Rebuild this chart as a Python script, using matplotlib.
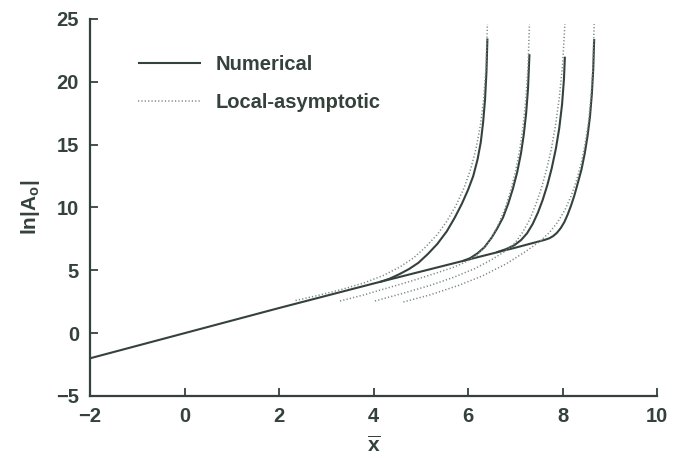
import matplotlib
matplotlib.use("Agg")
import matplotlib.pyplot as plt

plt.rcParams['font.family'] = ['Liberation Sans', 'DejaVu Sans']
plt.rcParams['font.weight'] = 'bold'
plt.rcParams['mathtext.fontset'] = 'custom'
plt.rcParams['mathtext.rm'] = 'Liberation Sans:bold'
plt.rcParams['mathtext.it'] = 'Liberation Sans:bold'
plt.rcParams['mathtext.bf'] = 'Liberation Sans:bold'

# ---- data ----
# shared numerical base line (leads into the 4th branch)
main_x = [-2.0, 0.0, 2.0, 4.0, 5.0, 6.0, 7.0, 7.5]
main_y = [-2.0, 0.0, 2.0, 3.95, 4.9, 5.85, 6.8, 7.3]

# numerical branches (leave the base line and blow up)
num1_x = [4.14, 4.35, 4.55, 4.75, 4.95, 5.15, 5.35, 5.55, 5.72, 5.87, 6.0, 6.11,
          6.2, 6.27, 6.32, 6.36, 6.39, 6.41]
num1_y = [4.08, 4.35, 4.7, 5.1, 5.6, 6.3, 7.1, 8.1, 9.2, 10.3, 11.4, 12.5,
          13.8, 15.2, 16.8, 18.6, 20.8, 23.45]
num2_x = [5.9, 6.05, 6.2, 6.35, 6.5, 6.62, 6.74, 6.85, 6.95, 7.04, 7.12, 7.18,
          7.23, 7.27, 7.30]
num2_y = [5.75, 5.98, 6.35, 6.85, 7.6, 8.35, 9.2, 10.3, 11.5, 12.8, 14.3, 15.8,
          17.5, 19.5, 22.2]
num3_x = [6.6, 6.8, 6.98, 7.12, 7.25, 7.37, 7.48, 7.58, 7.68, 7.77, 7.86, 7.93,
          7.99, 8.03, 8.05]
num3_y = [6.43, 6.68, 7.0, 7.4, 7.95, 8.7, 9.6, 10.6, 11.8, 13.1, 14.7, 16.3,
          18.2, 20.2, 22.0]
num4_x = [7.5, 7.62, 7.72, 7.8, 7.88, 7.96, 8.04, 8.11, 8.18, 8.25, 8.32, 8.4,
          8.47, 8.53, 8.58, 8.62, 8.65, 8.67]
num4_y = [7.3, 7.42, 7.55, 7.72, 7.98, 8.35, 8.85, 9.45, 10.15, 10.95, 11.9, 13.0,
          14.3, 15.7, 17.2, 19.0, 21.0, 23.4]

# local-asymptotic curves
asy1_x = [2.35, 2.8, 3.3, 3.8, 4.2, 4.55, 4.85, 5.1, 5.35, 5.55, 5.75, 5.92,
          6.06, 6.17, 6.26, 6.33, 6.38, 6.41]
asy1_y = [2.6, 2.98, 3.45, 4.0, 4.58, 5.25, 6.0, 6.85, 7.85, 8.9, 10.2, 11.6,
          13.1, 14.7, 16.5, 18.6, 21.2, 24.6]
asy2_x = [3.29, 3.8, 4.3, 4.8, 5.3, 5.7, 6.0, 6.2, 6.38, 6.52, 6.65, 6.78, 6.9,
          7.0, 7.09, 7.16, 7.22, 7.27, 7.30]
asy2_y = [2.56, 3.05, 3.6, 4.15, 4.75, 5.25, 5.75, 6.25, 6.95, 7.75, 8.7, 9.9, 11.3,
          12.8, 14.5, 16.3, 18.5, 21.2, 24.6]
asy3_x = [4.03, 4.6, 5.2, 5.7, 6.15, 6.5, 6.8, 7.0, 7.15, 7.3, 7.43, 7.55, 7.66,
          7.76, 7.85, 7.93, 8.0, 8.05]
asy3_y = [2.56, 3.15, 3.8, 4.45, 5.15, 5.85, 6.55, 7.2, 8.0, 9.0, 10.2, 11.5, 13.0,
          14.6, 16.5, 18.7, 21.3, 24.6]
asy4_x = [4.63, 5.2, 5.8, 6.3, 6.8, 7.2, 7.52, 7.72, 7.9, 8.05, 8.18, 8.3, 8.4,
          8.48, 8.55, 8.6, 8.64, 8.67]
asy4_y = [2.48, 3.05, 3.8, 4.55, 5.5, 6.45, 7.3, 8.0, 8.85, 9.8, 10.9, 12.2, 13.6,
          15.1, 16.8, 18.7, 21.0, 24.6]

x_ticks = [-2, 0, 2, 4, 6, 8, 10]
y_ticks = [-5, 0, 5, 10, 15, 20, 25]

# ---- styling ----
ink = '#35423c'
dot_col = '#7d8a84'

fig = plt.figure(figsize=(6.81, 4.61), dpi=100)
ax = fig.add_axes([0.1322, 0.141, 0.8326, 0.8178])

lw = 1.5
ax.plot(main_x + num4_x[1:], main_y + num4_y[1:], color=ink, lw=lw, label='Numerical',
        solid_capstyle='butt', solid_joinstyle='round')
for xs, ys in [(num1_x, num1_y), (num2_x, num2_y), (num3_x, num3_y)]:
    ax.plot(xs, ys, color=ink, lw=lw, solid_capstyle='butt', solid_joinstyle='round')

first = True
for xs, ys in [(asy1_x, asy1_y), (asy2_x, asy2_y), (asy3_x, asy3_y), (asy4_x, asy4_y)]:
    ax.plot(xs, ys, color=dot_col, lw=1.1, linestyle=(0, (0.8, 1.4)),
            label='Local-asymptotic' if first else None)
    first = False

ax.set_xlim(-2, 10)
ax.set_ylim(-5, 25)
ax.set_xticks(x_ticks)
ax.set_yticks(y_ticks)

for s in ['top', 'right']:
    ax.spines[s].set_visible(False)
for s in ['left', 'bottom']:
    ax.spines[s].set_linewidth(1.6)
    ax.spines[s].set_color(ink)

ax.tick_params(direction='in', length=6, width=1.3, colors=ink, labelsize=14.5,
               labelcolor=ink)
ax.tick_params(axis='y', pad=8)
ax.tick_params(axis='x', pad=8)
for lab in ax.get_xticklabels() + ax.get_yticklabels():
    lab.set_fontweight('bold')

ax.set_xlabel(r'$\overline{\mathrm{x}}$', fontsize=15, color=ink)
ax.xaxis.set_label_coords(0.5, -0.105)
ax.set_ylabel(r'$\mathrm{ln|A_o|}$', fontsize=15, color=ink)
ax.yaxis.set_label_coords(-0.085, 0.5)

leg = ax.legend(loc='upper left', bbox_to_anchor=(0.085, 0.905), frameon=False,
                handlelength=3.1, handletextpad=0.75, labelspacing=0.94,
                borderpad=0, borderaxespad=0,
                prop={'size': 14.5, 'weight': 'bold'})
for t in leg.get_texts():
    t.set_color(ink)

fig.savefig('out.png', dpi=100, facecolor='white')
